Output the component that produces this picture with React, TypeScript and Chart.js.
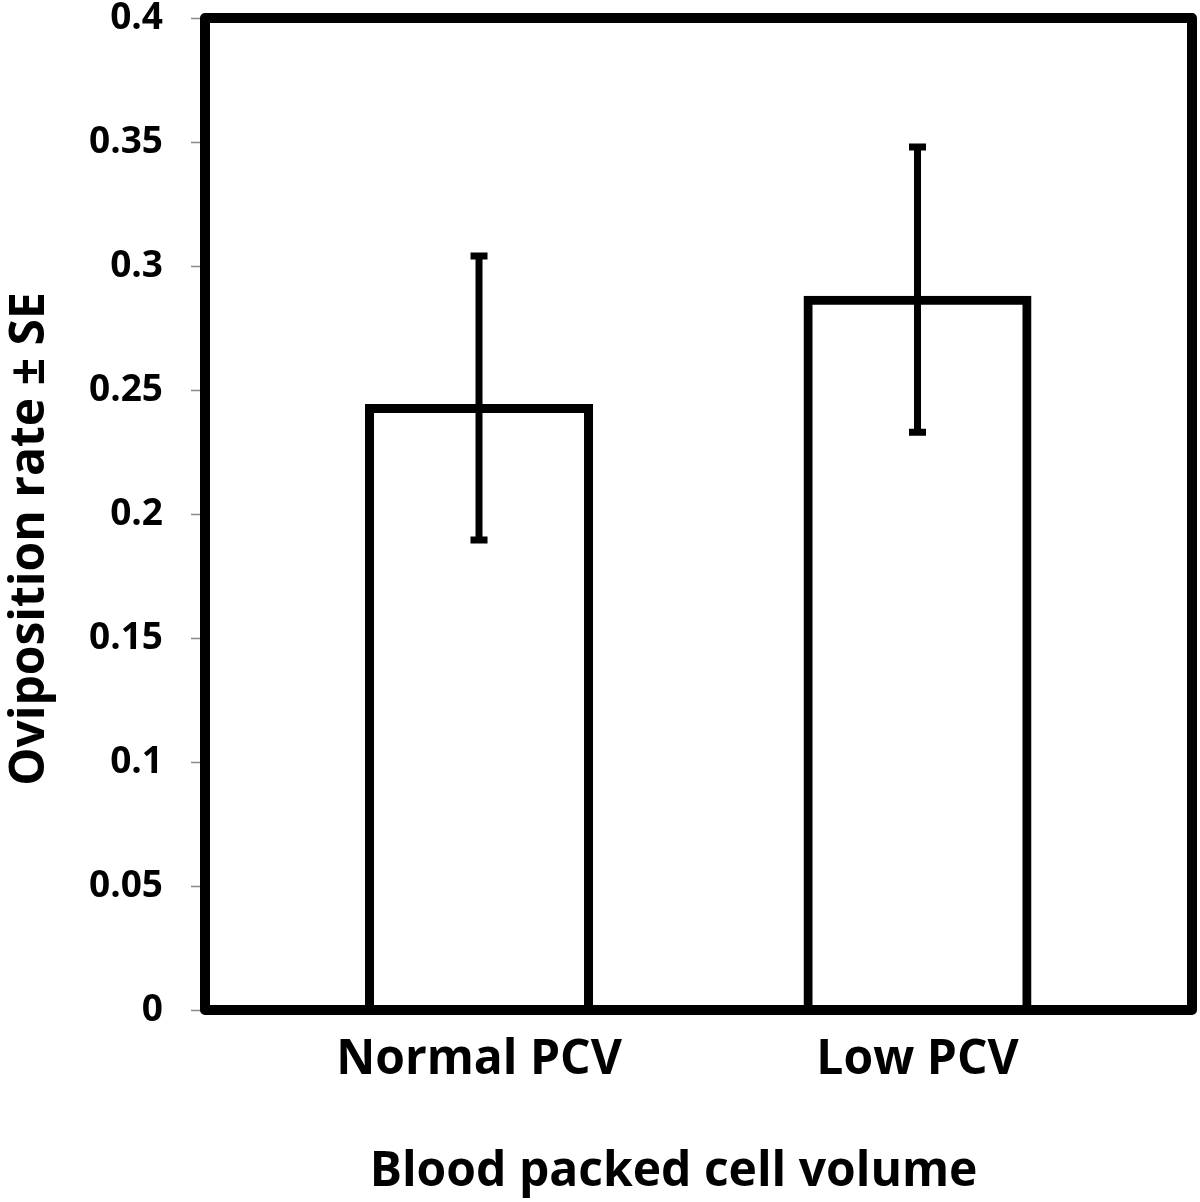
import React, { useEffect, useRef } from "react";
import { Chart, registerables } from "chart.js";

Chart.register(...registerables);

const categories = ["Normal PCV", "Low PCV"];
const meanValues = [0.2425, 0.2862];
const errorLow = [0.1895, 0.233];
const errorHigh = [0.304, 0.348];
const yTickMin = 0;
const yTickMax = 0.4;
const yTickStep = 0.05;
const xAxisTitle = "Blood packed cell volume";
const yAxisTitle = "Oviposition rate ± SE";

const FONT = "'Open Sans', 'DejaVu Sans', sans-serif";
const NBSP = "\u00a0";

const errorBarPlugin = {
  id: "errorBars",
  afterDatasetsDraw(chart: any) {
    const ctx = chart.ctx;
    const xs = chart.scales.x;
    const ys = chart.scales.y;
    ctx.save();
    ctx.strokeStyle = "#000";
    ctx.lineWidth = 7;
    ctx.lineCap = "butt";
    categories.forEach((_, i) => {
      const x = xs.getPixelForValue(i);
      const yl = ys.getPixelForValue(errorLow[i]);
      const yh = ys.getPixelForValue(errorHigh[i]);
      ctx.beginPath();
      ctx.moveTo(x, yl);
      ctx.lineTo(x, yh);
      ctx.stroke();
      ctx.beginPath();
      ctx.moveTo(x - 8.5, yl);
      ctx.lineTo(x + 8.5, yl);
      ctx.moveTo(x - 8.5, yh);
      ctx.lineTo(x + 8.5, yh);
      ctx.stroke();
    });
    ctx.restore();
  },
};

const framePlugin = {
  id: "frame",
  afterDraw(chart: any) {
    const { ctx, chartArea } = chart;
    ctx.save();
    ctx.strokeStyle = "#000";
    ctx.lineWidth = 10;
    ctx.lineJoin = "round";
    ctx.strokeRect(
      chartArea.left,
      chartArea.top,
      chartArea.right - chartArea.left,
      chartArea.bottom - chartArea.top
    );
    ctx.restore();
  },
};

export default function App() {
  const canvasRef = useRef<HTMLCanvasElement | null>(null);

  useEffect(() => {
    if (!canvasRef.current) return;
    const chart = new Chart(canvasRef.current, {
      type: "bar",
      data: {
        datasets: [
          {
            data: categories.map((_, i) => ({ x: i, y: meanValues[i] })),
            backgroundColor: "#ffffff",
            borderColor: "#000000",
            borderWidth: 9,
            borderSkipped: "start",
            inflateAmount: 4.5,
            barThickness: 219,
          } as any,
        ],
      },
      options: {
        responsive: false,
        animation: false,
        events: [],
        layout: { padding: { top: 18, right: 8, left: 0, bottom: 0 } },
        plugins: {
          legend: { display: false },
          tooltip: { enabled: false },
        },
        scales: {
          x: {
            type: "linear",
            min: -0.6249,
            max: 1.626,
            offset: false,
            afterBuildTicks(scale: any) {
              scale.ticks = categories.map((_, i) => ({ value: i }));
            },
            afterFit(scale: any) {
              scale.height = 192;
              scale.paddingLeft = 0;
              scale.paddingRight = 0;
            },
            grid: { display: false, drawTicks: false },
            border: { display: false },
            ticks: {
              autoSkip: false,
              maxRotation: 0,
              padding: 22,
              color: "#000",
              font: { family: FONT, size: 48, weight: "bold", lineHeight: 1.2 },
              callback: (v: any) => categories[Math.round(Number(v))] ?? "",
            },
            title: {
              display: true,
              text: xAxisTitle + NBSP.repeat(4),
              color: "#000",
              font: { family: FONT, size: 48, weight: "bold", lineHeight: 1.2 },
              padding: { top: 0, bottom: 1 },
            },
          },
          y: {
            type: "linear",
            min: yTickMin,
            max: yTickMax,
            afterFit(scale: any) {
              scale.width = 205;
              scale.paddingTop = 0;
              scale.paddingBottom = 0;
            },
            grid: {
              display: true,
              drawOnChartArea: false,
              drawTicks: true,
              tickLength: 14,
              tickColor: "#8a8a8a",
              tickWidth: 1.5,
            },
            border: { display: false },
            ticks: {
              stepSize: yTickStep,
              padding: 28,
              color: "#000",
              font: { family: FONT, size: 37, weight: "bold", lineHeight: 1 },
              callback: (v: any) => String(Number(Number(v).toFixed(2))),
            },
            title: {
              display: true,
              text: yAxisTitle + NBSP.repeat(4),
              color: "#000",
              font: { family: FONT, size: 48, weight: "bold", lineHeight: 1.2 },
              padding: { top: 2, bottom: 0 },
            },
          },
        },
      },
      plugins: [errorBarPlugin, framePlugin],
    });
    return () => chart.destroy();
  }, []);

  return (
    <div style={{ position: "absolute", left: 0, top: 0, width: 1200, height: 1202, background: "#fff" }}>
      <canvas ref={canvasRef} width={1200} height={1202} style={{ display: "block" }} />
    </div>
  );
}
